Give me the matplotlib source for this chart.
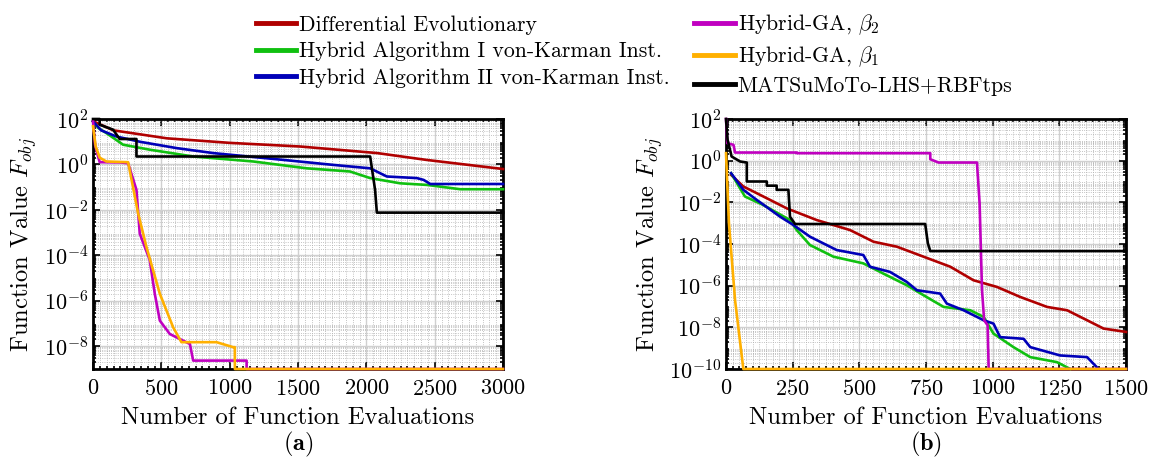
"""Convergence histories of the optimisers, two test cases side by side"""
import numpy as np
import matplotlib
matplotlib.use('Agg')
import matplotlib.pyplot as plt
from matplotlib.ticker import LogLocator, MultipleLocator, NullFormatter
from matplotlib.lines import Line2D

plt.rcParams['font.family'] = 'serif'
plt.rcParams['font.serif'] = ['cmr10']
plt.rcParams['mathtext.fontset'] = 'cm'
plt.rcParams['axes.formatter.use_mathtext'] = True

labels = ['Differential Evolutionary', 'Hybrid Algorithm I von-Karman Inst.',
          'Hybrid Algorithm II von-Karman Inst.', r'Hybrid-GA, $\beta_2$',
          r'Hybrid-GA, $\beta_1$', 'MATSuMoTo-LHS+RBFtps']
colors = ['#b00000', '#10c010', '#0000b8', '#c000c0', '#ffb000', '#000000']

# ---- panel (a): evaluations / log10(F_obj) ----
a_de_x = [0, 150, 540, 1000, 1515, 2080, 2440, 3000]
a_de_y = [1.9, 1.5, 1.15, 0.95, 0.79, 0.5, 0.2, -0.2]
a_h1_x = [0, 40, 98, 220, 415, 733, 1173, 1564, 1881, 2028, 2248, 2443, 2687, 3000]
a_h1_y = [1.9, 1.6, 1.38, 0.87, 0.65, 0.35, 0.13, -0.17, -0.31, -0.6, -0.83, -0.9, -1.09, -1.09]
a_h2_x = [0, 60, 171, 342, 611, 880, 1393, 1759, 2028, 2150, 2370, 2419, 2468, 3000]
a_h2_y = [1.9, 1.5, 1.23, 1.0, 0.72, 0.5, 0.2, -0.02, -0.17, -0.53, -0.6, -0.68, -0.86, -0.86]
a_b2_x = [0, 15, 30, 49, 200, 257, 318, 342, 415, 452, 489, 562, 709, 733, 1124, 1124, 3000]
a_b2_y = [1.9, 0.87, 0.5, 0.1, 0.09, 0.05, -1.12, -3.04, -4.2, -5.69, -6.87, -7.46, -7.9, -8.63, -8.63, -9.0, -9.0]
a_b1_x = [0, 20, 49, 98, 257, 330, 391, 489, 586, 647, 904, 1026, 1038, 1038, 3000]
a_b1_y = [1.68, 0.79, 0.3, 0.13, 0.1, -2.15, -3.63, -5.69, -7.16, -7.82, -7.82, -8.04, -8.04, -9.0, -9.0]
a_ms_x = [0, 49, 49, 147, 195, 318, 318, 2028, 2064, 2077, 3000]
a_ms_y = [2.0, 2.0, 1.75, 1.53, 1.12, 1.12, 0.35, 0.35, -1.12, -2.12, -2.12]

# ---- panel (b) ----
b_de_x = [19, 65, 140, 228, 340, 465, 553, 641, 741, 841, 928, 1016, 1103, 1204, 1279, 1354, 1416, 1500]
b_de_y = [-0.68, -1.24, -1.72, -2.29, -2.85, -3.33, -3.89, -4.13, -4.61, -5.09, -5.74, -6.06, -6.54,
          -7.02, -7.18, -7.66, -8.06, -8.22]
b_h1_x = [19, 71, 140, 240, 265, 315, 403, 515, 590, 678, 741, 816, 916, 966, 1003, 1078, 1141, 1241, 1291]
b_h1_y = [-0.6, -1.72, -2.13, -2.85, -3.33, -4.05, -4.61, -4.93, -5.42, -5.98, -6.46, -7.02, -7.18,
          -7.5, -8.3, -8.95, -9.43, -9.67, -10.0]
b_h2_x = [19, 65, 115, 203, 253, 315, 415, 515, 540, 615, 678, 716, 803, 828, 891, 966, 1003, 1028,
          1116, 1141, 1253, 1354, 1397]
b_h2_y = [-0.6, -1.4, -1.88, -2.69, -3.09, -3.65, -4.29, -4.53, -5.09, -5.34, -5.82, -6.22, -6.38,
          -6.86, -7.18, -7.66, -7.82, -8.47, -8.55, -8.95, -9.35, -9.43, -10.0]
b_b2_x = [0, 5, 28, 34, 265, 265, 766, 766, 797, 941, 951, 960, 968, 981, 985, 1500]
b_b2_y = [2.0, 0.84, 0.76, 0.39, 0.39, 0.36, 0.36, 0.07, -0.09, -0.09, -2.04, -6.2, -7.66, -7.9, -10.0, -10.0]
b_b1_x = [0, 11, 34, 65, 1500]
b_b1_y = [0.36, -3.0, -6.7, -10.0, -10.0]
b_ms_x = [0, 6, 21, 53, 78, 78, 153, 153, 190, 190, 234, 240, 259, 747, 757, 766, 1500]
b_ms_y = [2.0, 1.0, 0.2, -0.04, -0.09, -1.0, -1.0, -1.2, -1.2, -1.4, -1.4, -2.69, -3.04, -3.04,
          -3.97, -4.34, -4.34]

panel_a = [(a_de_x, a_de_y), (a_h1_x, a_h1_y), (a_h2_x, a_h2_y),
           (a_b2_x, a_b2_y), (a_b1_x, a_b1_y), (a_ms_x, a_ms_y)]
panel_b = [(b_de_x, b_de_y), (b_h1_x, b_h1_y), (b_h2_x, b_h2_y),
           (b_b2_x, b_b2_y), (b_b1_x, b_b1_y), (b_ms_x, b_ms_y)]

fig = plt.figure(figsize=(11.55, 4.59), dpi=100)
ax_a = fig.add_axes([93 / 1155, 1 - 369 / 459, 410 / 1155, 250 / 459])
ax_b = fig.add_axes([726 / 1155, 1 - 369 / 459, 400 / 1155, 250 / 459])


def style_axes(ax, data, xmax, ylow, xmaj, yticks, caption):
    # draw the curves (values stored as log10)
    for (x, y), c in zip(data, colors):
        ax.plot(x, 10.0 ** np.array(y), color=c, lw=1.9, clip_on=False, zorder=3)
    ax.set_yscale('log')
    ax.set_xlim(0, xmax)
    ax.set_ylim(ylow, 1e2)
    ax.set_xticks(np.arange(0, xmax + 1, xmaj))
    ax.set_yticks(yticks)
    ax.yaxis.set_minor_locator(LogLocator(base=10, subs=np.arange(2, 10), numticks=40))
    ax.yaxis.set_minor_formatter(NullFormatter())
    ax.xaxis.set_minor_locator(MultipleLocator(xmaj / 10))
    ax.grid(True, which='major', color='#d0d0d0', lw=1.0)
    ax.grid(True, which='minor', color='#b0b0b0', lw=0.6, ls=':')
    ax.set_axisbelow(True)
    ax.tick_params(which='both', direction='in', top=True, right=True, labelsize=16, width=1.2)
    ax.tick_params(axis='x', which='major', pad=7)
    ax.tick_params(which='major', length=5)
    ax.tick_params(which='minor', length=2.5)
    for s in ax.spines.values():
        s.set_linewidth(2.0)
    ax.set_xlabel('Number of Function Evaluations', fontsize=17.7, labelpad=6)
    ax.set_ylabel(r'Function Value $F_{obj}$', fontsize=17.7, labelpad=3)
    ax.text(0.5, -0.30, r'$\mathbf{' + caption + '}$', transform=ax.transAxes,
            ha='center', va='center', fontsize=17.5)


style_axes(ax_a, panel_a, 3000, 1e-9, 500, [1e2, 1e0, 1e-2, 1e-4, 1e-6, 1e-8], '(a)')
style_axes(ax_b, panel_b, 1500, 1e-10, 250, [1e2, 1e0, 1e-2, 1e-4, 1e-6, 1e-8, 1e-10], '(b)')

handles = [Line2D([0], [0], color=c, lw=3.5) for c in colors]
fig.legend(handles, labels, ncol=2,
           loc='upper center', bbox_to_anchor=(634 / 1155, 1.015), frameon=False, fontsize=15.7,
           handlelength=1.84, handletextpad=0.14, columnspacing=1.15, labelspacing=0.33)

fig.savefig('out.png', dpi=100)
